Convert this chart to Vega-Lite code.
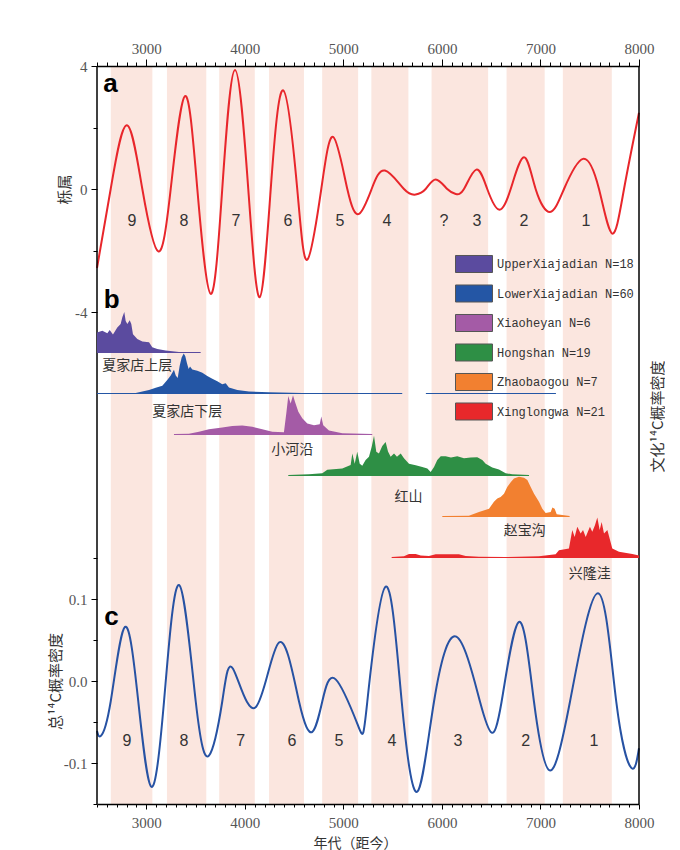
{
 "$schema": "https://vega.github.io/schema/vega-lite/v6.json",
 "background": "white",
 "padding": {"left": 48, "top": 41, "right": 0, "bottom": 0},
 "spacing": 0,
 "bounds": "flush",
 "config": {
  "view": {"stroke": null},
  "axis": {"labelFont": "Liberation Serif", "labelFontSize": 15, "labelColor": "#555", "titleFont": "Noto Sans CJK SC", "titleFontWeight": "normal", "titleFontSize": 15, "titleColor": "#333", "domainColor": "black", "domainWidth": 1.5, "tickColor": "black", "grid": false, "labelOverlap": false, "labelFlush": false}
 },
 "datasets": {
  "edges": [{"year": 2500}, {"year": 8000}],
  "bands": [{"year":2640,"end":3062},{"year":3210,"end":3609},{"year":3740,"end":4101},{"year":4246,"end":4600},{"year":4785,"end":5150},{"year":5284,"end":5660},{"year":5895,"end":6469},{"year":6656,"end":7043},{"year":7227,"end":7724}],
  "red": [{"year":2500,"v":-2.57},{"year":2639,"v":0},{"year":2801,"v":2.07},{"year":2960,"v":0},{"year":3122,"v":-2.03},{"year":3248,"v":0},{"year":3393,"v":3.02},{"year":3518,"v":0},{"year":3654,"v":-3.41},{"year":3771,"v":0},{"year":3900,"v":3.87},{"year":4035,"v":0},{"year":4151,"v":-3.52},{"year":4263,"v":0},{"year":4390,"v":3.21},{"year":4532,"v":0},{"year":4634,"v":-2.3},{"year":4776,"v":0},{"year":4898,"v":1.69},{"year":5040,"v":0},{"year":5159,"v":-0.81},{"year":5287,"v":0},{"year":5422,"v":0.6},{"year":5615,"v":0},{"year":5734,"v":-0.18},{"year":5835,"v":0},{"year":5937,"v":0.31},{"year":6054,"v":0},{"year":6140,"v":-0.16},{"year":6224,"v":0},{"year":6349,"v":0.63},{"year":6460,"v":0},{"year":6579,"v":-0.67},{"year":6698,"v":0},{"year":6833,"v":1.03},{"year":6951,"v":0},{"year":7097,"v":-0.75},{"year":7239,"v":0},{"year":7432,"v":0.98},{"year":7594,"v":0},{"year":7729,"v":-1.45},{"year":7848,"v":0},{"year":8000,"v":2.48}],
  "blue": [{"year":2500,"v":-0.061},{"year":2538,"v":-0.067},{"year":2639,"v":-0.025},{"year":2784,"v":0.066},{"year":2919,"v":-0.025},{"year":3051,"v":-0.129},{"year":3180,"v":-0.025},{"year":3332,"v":0.117},{"year":3502,"v":-0.025},{"year":3636,"v":-0.091},{"year":3771,"v":-0.025},{"year":3880,"v":0.015},{"year":4110,"v":-0.032},{"year":4347,"v":0.047},{"year":4550,"v":-0.025},{"year":4685,"v":-0.062},{"year":4786,"v":-0.025},{"year":4922,"v":0.002},{"year":5151,"v":-0.055},{"year":5243,"v":-0.025},{"year":5429,"v":0.115},{"year":5592,"v":-0.025},{"year":5750,"v":-0.135},{"year":5920,"v":-0.025},{"year":6146,"v":0.054},{"year":6386,"v":-0.025},{"year":6505,"v":-0.063},{"year":6606,"v":-0.025},{"year":6782,"v":0.072},{"year":6934,"v":-0.025},{"year":7093,"v":-0.109},{"year":7300,"v":-0.025},{"year":7584,"v":0.107},{"year":7769,"v":-0.025},{"year":7922,"v":-0.106},{"year":8000,"v":-0.082}],
  "numA": [{"year":2855,"v":-1.05,"t":"9"},{"year":3383,"v":-1.05,"t":"8"},{"year":3910,"v":-1.05,"t":"7"},{"year":4438,"v":-1.05,"t":"6"},{"year":4966,"v":-1.05,"t":"5"},{"year":5443,"v":-1.05,"t":"4"},{"year":6021,"v":-1.05,"t":"?"},{"year":6356,"v":-1.05,"t":"3"},{"year":6833,"v":-1.05,"t":"2"},{"year":7462,"v":-1.05,"t":"1"}],
  "numC": [{"year":2804,"v":-0.073,"t":"9"},{"year":3383,"v":-0.073,"t":"8"},{"year":3958,"v":-0.073,"t":"7"},{"year":4479,"v":-0.073,"t":"6"},{"year":4956,"v":-0.073,"t":"5"},{"year":5493,"v":-0.073,"t":"4"},{"year":6163,"v":-0.073,"t":"3"},{"year":6850,"v":-0.073,"t":"2"},{"year":7543,"v":-0.073,"t":"1"}],
  "b": [
   {"c":"U","year":2500,"d":0.5},{"c":"U","year":2554,"d":0.54},{"c":"U","year":2605,"d":0.48},{"c":"U","year":2629,"d":0.56},{"c":"U","year":2662,"d":0.45},{"c":"U","year":2706,"d":0.62},{"c":"U","year":2740,"d":0.71},{"c":"U","year":2757,"d":0.87},{"c":"U","year":2777,"d":1.0},{"c":"U","year":2791,"d":0.78},{"c":"U","year":2808,"d":0.71},{"c":"U","year":2832,"d":0.8},{"c":"U","year":2848,"d":0.71},{"c":"U","year":2865,"d":0.46},{"c":"U","year":2909,"d":0.34},{"c":"U","year":2960,"d":0.28},{"c":"U","year":3028,"d":0.26},{"c":"U","year":3061,"d":0.14},{"c":"U","year":3112,"d":0.1},{"c":"U","year":3197,"d":0.06},{"c":"U","year":3332,"d":0.025},{"c":"U","year":3552,"d":0.025},
   {"c":"L","year":2500,"d":0.025},{"c":"L","year":2893,"d":0.025},{"c":"L","year":2960,"d":0.06},{"c":"L","year":3028,"d":0.1},{"c":"L","year":3096,"d":0.15},{"c":"L","year":3163,"d":0.2},{"c":"L","year":3213,"d":0.34},{"c":"L","year":3248,"d":0.45},{"c":"L","year":3281,"d":0.59},{"c":"L","year":3299,"d":0.45},{"c":"L","year":3319,"d":0.39},{"c":"L","year":3339,"d":0.69},{"c":"L","year":3359,"d":0.89},{"c":"L","year":3380,"d":0.99},{"c":"L","year":3396,"d":0.92},{"c":"L","year":3413,"d":0.75},{"c":"L","year":3430,"d":0.61},{"c":"L","year":3444,"d":0.67},{"c":"L","year":3467,"d":0.6},{"c":"L","year":3518,"d":0.57},{"c":"L","year":3569,"d":0.52},{"c":"L","year":3619,"d":0.44},{"c":"L","year":3670,"d":0.37},{"c":"L","year":3721,"d":0.31},{"c":"L","year":3771,"d":0.24},{"c":"L","year":3806,"d":0.26},{"c":"L","year":3839,"d":0.16},{"c":"L","year":3924,"d":0.1},{"c":"L","year":4042,"d":0.06},{"c":"L","year":4245,"d":0.04},{"c":"L","year":4583,"d":0.025},{"c":"L","year":5595,"d":0.025},{"c":"L","year":5600,"d":0},{"c":"L","year":5835,"d":0},{"c":"L","year":5840,"d":0.025},{"c":"L","year":7157,"d":0.025},
   {"c":"X","year":3281,"d":0.025},{"c":"X","year":3433,"d":0.03},{"c":"X","year":3535,"d":0.08},{"c":"X","year":3636,"d":0.14},{"c":"X","year":3771,"d":0.18},{"c":"X","year":3873,"d":0.22},{"c":"X","year":3974,"d":0.23},{"c":"X","year":4076,"d":0.2},{"c":"X","year":4177,"d":0.14},{"c":"X","year":4279,"d":0.08},{"c":"X","year":4397,"d":0.07},{"c":"X","year":4421,"d":0.53},{"c":"X","year":4441,"d":0.95},{"c":"X","year":4465,"d":0.77},{"c":"X","year":4489,"d":0.97},{"c":"X","year":4509,"d":0.81},{"c":"X","year":4543,"d":0.57},{"c":"X","year":4583,"d":0.41},{"c":"X","year":4634,"d":0.28},{"c":"X","year":4702,"d":0.24},{"c":"X","year":4760,"d":0.26},{"c":"X","year":4776,"d":0.45},{"c":"X","year":4796,"d":0.24},{"c":"X","year":4854,"d":0.11},{"c":"X","year":4989,"d":0.04},{"c":"X","year":5293,"d":0.025},
   {"c":"H","year":4441,"d":0.025},{"c":"H","year":4651,"d":0.04},{"c":"H","year":4786,"d":0.07},{"c":"H","year":4837,"d":0.15},{"c":"H","year":4989,"d":0.18},{"c":"H","year":5074,"d":0.27},{"c":"H","year":5091,"d":0.55},{"c":"H","year":5115,"d":0.3},{"c":"H","year":5141,"d":0.59},{"c":"H","year":5166,"d":0.3},{"c":"H","year":5192,"d":0.25},{"c":"H","year":5226,"d":0.39},{"c":"H","year":5260,"d":0.47},{"c":"H","year":5287,"d":0.71},{"c":"H","year":5311,"d":0.98},{"c":"H","year":5334,"d":0.59},{"c":"H","year":5361,"d":0.55},{"c":"H","year":5395,"d":0.73},{"c":"H","year":5429,"d":0.83},{"c":"H","year":5453,"d":0.6},{"c":"H","year":5480,"d":0.47},{"c":"H","year":5514,"d":0.55},{"c":"H","year":5544,"d":0.47},{"c":"H","year":5582,"d":0.55},{"c":"H","year":5615,"d":0.43},{"c":"H","year":5666,"d":0.3},{"c":"H","year":5734,"d":0.26},{"c":"H","year":5801,"d":0.22},{"c":"H","year":5852,"d":0.18},{"c":"H","year":5886,"d":0.1},{"c":"H","year":5920,"d":0.22},{"c":"H","year":5953,"d":0.39},{"c":"H","year":5988,"d":0.48},{"c":"H","year":6038,"d":0.48},{"c":"H","year":6092,"d":0.45},{"c":"H","year":6156,"d":0.48},{"c":"H","year":6224,"d":0.43},{"c":"H","year":6292,"d":0.45},{"c":"H","year":6359,"d":0.46},{"c":"H","year":6410,"d":0.39},{"c":"H","year":6444,"d":0.3},{"c":"H","year":6511,"d":0.21},{"c":"H","year":6579,"d":0.16},{"c":"H","year":6647,"d":0.07},{"c":"H","year":6714,"d":0.04},{"c":"H","year":6884,"d":0.025},
   {"c":"Z","year":6004,"d":0.025},{"c":"Z","year":6274,"d":0.03},{"c":"Z","year":6376,"d":0.12},{"c":"Z","year":6478,"d":0.2},{"c":"Z","year":6528,"d":0.37},{"c":"Z","year":6562,"d":0.45},{"c":"Z","year":6596,"d":0.49},{"c":"Z","year":6630,"d":0.57},{"c":"Z","year":6663,"d":0.73},{"c":"Z","year":6698,"d":0.85},{"c":"Z","year":6731,"d":0.94},{"c":"Z","year":6782,"d":0.98},{"c":"Z","year":6833,"d":0.96},{"c":"Z","year":6867,"d":0.9},{"c":"Z","year":6901,"d":0.73},{"c":"Z","year":6935,"d":0.57},{"c":"Z","year":6985,"d":0.37},{"c":"Z","year":7019,"d":0.2},{"c":"Z","year":7053,"d":0.1},{"c":"Z","year":7104,"d":0.12},{"c":"Z","year":7121,"d":0.23},{"c":"Z","year":7144,"d":0.2},{"c":"Z","year":7165,"d":0.07},{"c":"Z","year":7296,"d":0.025},
   {"c":"W","year":5490,"d":0.025},{"c":"W","year":5615,"d":0.04},{"c":"W","year":5666,"d":0.1},{"c":"W","year":5734,"d":0.1},{"c":"W","year":5785,"d":0.06},{"c":"W","year":5869,"d":0.05},{"c":"W","year":5937,"d":0.09},{"c":"W","year":6038,"d":0.09},{"c":"W","year":6173,"d":0.09},{"c":"W","year":6241,"d":0.05},{"c":"W","year":6376,"d":0.03},{"c":"W","year":6647,"d":0.025},{"c":"W","year":6985,"d":0.04},{"c":"W","year":7154,"d":0.09},{"c":"W","year":7188,"d":0.19},{"c":"W","year":7289,"d":0.23},{"c":"W","year":7323,"d":0.68},{"c":"W","year":7347,"d":0.51},{"c":"W","year":7374,"d":0.76},{"c":"W","year":7408,"d":0.6},{"c":"W","year":7432,"d":0.68},{"c":"W","year":7459,"d":0.51},{"c":"W","year":7502,"d":0.76},{"c":"W","year":7526,"d":0.64},{"c":"W","year":7553,"d":0.8},{"c":"W","year":7577,"d":0.99},{"c":"W","year":7601,"d":0.68},{"c":"W","year":7621,"d":0.88},{"c":"W","year":7645,"d":0.6},{"c":"W","year":7679,"d":0.68},{"c":"W","year":7729,"d":0.23},{"c":"W","year":7797,"d":0.15},{"c":"W","year":7932,"d":0.1},{"c":"W","year":8000,"d":0.06}
  ],
  "lab": [{"c":"U","year":2909,"d":-0.31,"t":"夏家店上层"},{"c":"L","year":3416,"d":-0.45,"t":"夏家店下层"},{"c":"X","year":4482,"d":-0.37,"t":"小河沿"},{"c":"H","year":5662,"d":-0.5,"t":"红山"},{"c":"Z","year":6841,"d":-0.34,"t":"赵宝沟"}]
 },
 "vconcat": [
  {
   "width": 542, "height": 246,
   "encoding": {
    "x": {"field": "year", "type": "quantitative", "scale": {"domain": [2500, 8000], "nice": false, "zero": false},
      "axis": {"orient": "top", "title": null, "domain": true, "zindex": 1, "values": [2500,2600,2700,2800,2900,3000,3100,3200,3300,3400,3500,3600,3700,3800,3900,4000,4100,4200,4300,4400,4500,4600,4700,4800,4900,5000,5100,5200,5300,5400,5500,5600,5700,5800,5900,6000,6100,6200,6300,6400,6500,6600,6700,6800,6900,7000,7100,7200,7300,7400,7500,7600,7700,7800,7900,8000],
        "labelExpr": "datum.value % 1000 === 0 ? toString(datum.value) : ''", "labelPadding": 3,
        "tickSize": {"condition": {"test": "datum.value % 1000 === 0", "value": 7}, "value": 4}}}
   },
   "layer": [
    {"data": {"name": "bands"}, "mark": {"type": "rect", "color": "#fbe6df"}, "encoding": {"x2": {"field": "end"}}},
    {"data": {"name": "red"}, "mark": {"type": "line", "color": "#e8262b", "strokeWidth": 2, "interpolate": "natural"},
     "encoding": {
      "y": {"field": "v", "type": "quantitative", "scale": {"domain": [-4, 4], "nice": false},
        "axis": {"title": "栎属", "titlePadding": 2, "labelPadding": 4, "domain": false, "values": [-4,-3,-2,-1,0,1,2,3,4],
          "labelExpr": "datum.value % 4 === 0 ? toString(datum.value) : ''",
          "tickSize": {"condition": {"test": "datum.value % 4 === 0", "value": 6}, "value": 4}}}}},
    {"mark": {"type": "rule", "color": "black", "strokeWidth": 1.5}, "encoding": {"x": {"datum": 2500}, "x2": {"datum": 8000}, "y": {"datum": 0}}},
    {"mark": {"type": "rule", "color": "black", "strokeWidth": 1.5}, "encoding": {"x": {"datum": 2500}, "x2": {"datum": 8000}, "y": {"datum": 4}}},
    {"data": {"name": "edges"}, "mark": {"type": "rule", "color": "black", "strokeWidth": 1.5}},
    {"data": {"name": "numA"}, "mark": {"type": "text", "font": "Liberation Sans", "fontSize": 16, "color": "#333"},
     "encoding": {"y": {"field": "v", "type": "quantitative"}, "text": {"field": "t"}}},
    {"data": {"values": [{"year": 2636, "v": 3.41, "t": "a"}, {"year": 2650, "v": -3.6, "t": "b"}]},
     "mark": {"type": "text", "font": "Liberation Sans", "fontSize": 26, "fontWeight": "bold", "color": "black"},
     "encoding": {"y": {"field": "v", "type": "quantitative"}, "text": {"field": "t"}}}
   ]
  },
  {
   "width": 542, "height": 246,
   "resolve": {"scale": {"y": "independent"}},
   "layer": [
    {"data": {"name": "bands"}, "mark": {"type": "rect", "color": "#fbe6df"},
     "encoding": {
      "x": {"field": "year", "type": "quantitative", "scale": {"domain": [2500, 8000], "nice": false, "zero": false}, "axis": null},
      "x2": {"field": "end"}}},
    {"data": {"name": "edges"}, "mark": {"type": "rule", "color": "black", "strokeWidth": 1.5}, "encoding": {"x": {"field": "year", "type": "quantitative", "axis": null}}},
    {"layer": [
      {"data": {"name": "b"}, "transform": [{"filter": "datum.c === 'U'"}], "mark": {"type": "area", "opacity": 1},
       "encoding": {
        "x": {"field": "year", "type": "quantitative", "axis": null},
        "y": {"field": "d", "type": "quantitative", "stack": null, "scale": {"domain": [-5, 1], "nice": false}, "axis": null},
        "y2": {"datum": 0},
        "color": {"field": "c", "type": "nominal", "scale": {"domain": ["U","L","X","H","Z","W"], "range": ["#5b4b9f","#2456a5","#a45ba6","#2e8f45","#f28030","#e8282b"]},
          "legend": {"orient": "none", "legendX": 367, "legendY": 188, "title": null, "padding": 0,
            "symbolType": "M-2,-0.92H2V0.92H-2Z", "symbolSize": 342, "symbolStrokeColor": "#555", "symbolStrokeWidth": 1, "symbolOpacity": 1,
            "labelFont": "Liberation Mono", "labelFontSize": 12, "labelColor": "#333", "labelOffset": 13, "rowPadding": 7.5,
            "labelExpr": "datum.label == 'U' ? 'UpperXiajadian N=18' : datum.label == 'L' ? 'LowerXiajadian N=60' : datum.label == 'X' ? 'Xiaoheyan N=6' : datum.label == 'H' ? 'Hongshan N=19' : datum.label == 'Z' ? 'Zhaobaogou N=7' : 'Xinglongwa N=21'"}}}},
      {"data": {"name": "lab"}, "transform": [{"filter": "datum.c === 'U'"}], "mark": {"type": "text", "font": "Noto Sans CJK SC", "fontSize": 14, "color": "#333"},
       "encoding": {"x": {"field": "year", "type": "quantitative", "axis": null}, "y": {"field": "d", "type": "quantitative", "scale": {"domain": [-5, 1], "nice": false}, "axis": null}, "text": {"field": "t"}}}
    ]},
    {"layer": [
      {"data": {"name": "b"}, "transform": [{"filter": "datum.c === 'L'"}], "mark": {"type": "area", "opacity": 1},
       "encoding": {
        "x": {"field": "year", "type": "quantitative", "axis": null},
        "y": {"field": "d", "type": "quantitative", "stack": null, "scale": {"domain": [-4, 2], "nice": false}, "axis": null},
        "y2": {"datum": 0},
        "color": {"field": "c", "type": "nominal"}}},
      {"data": {"name": "lab"}, "transform": [{"filter": "datum.c === 'L'"}], "mark": {"type": "text", "font": "Noto Sans CJK SC", "fontSize": 14, "color": "#333"},
       "encoding": {"x": {"field": "year", "type": "quantitative", "axis": null}, "y": {"field": "d", "type": "quantitative", "scale": {"domain": [-4, 2], "nice": false}, "axis": null}, "text": {"field": "t"}}}
    ]},
    {"layer": [
      {"data": {"name": "b"}, "transform": [{"filter": "datum.c === 'X'"}], "mark": {"type": "area", "opacity": 1},
       "encoding": {
        "x": {"field": "year", "type": "quantitative", "axis": null},
        "y": {"field": "d", "type": "quantitative", "stack": null, "scale": {"domain": [-3, 3], "nice": false}, "axis": null},
        "y2": {"datum": 0},
        "color": {"field": "c", "type": "nominal"}}},
      {"data": {"name": "lab"}, "transform": [{"filter": "datum.c === 'X'"}], "mark": {"type": "text", "font": "Noto Sans CJK SC", "fontSize": 14, "color": "#333"},
       "encoding": {"x": {"field": "year", "type": "quantitative", "axis": null}, "y": {"field": "d", "type": "quantitative", "scale": {"domain": [-3, 3], "nice": false}, "axis": null}, "text": {"field": "t"}}}
    ]},
    {"layer": [
      {"data": {"name": "b"}, "transform": [{"filter": "datum.c === 'H'"}], "mark": {"type": "area", "opacity": 1},
       "encoding": {
        "x": {"field": "year", "type": "quantitative", "axis": null},
        "y": {"field": "d", "type": "quantitative", "stack": null, "scale": {"domain": [-2, 4], "nice": false}, "axis": null},
        "y2": {"datum": 0},
        "color": {"field": "c", "type": "nominal"}}},
      {"data": {"name": "lab"}, "transform": [{"filter": "datum.c === 'H'"}], "mark": {"type": "text", "font": "Noto Sans CJK SC", "fontSize": 14, "color": "#333"},
       "encoding": {"x": {"field": "year", "type": "quantitative", "axis": null}, "y": {"field": "d", "type": "quantitative", "scale": {"domain": [-2, 4], "nice": false}, "axis": null}, "text": {"field": "t"}}}
    ]},
    {"layer": [
      {"data": {"name": "b"}, "transform": [{"filter": "datum.c === 'Z'"}], "mark": {"type": "area", "opacity": 1},
       "encoding": {
        "x": {"field": "year", "type": "quantitative", "axis": null},
        "y": {"field": "d", "type": "quantitative", "stack": null, "scale": {"domain": [-1, 5], "nice": false}, "axis": null},
        "y2": {"datum": 0},
        "color": {"field": "c", "type": "nominal"}}},
      {"data": {"name": "lab"}, "transform": [{"filter": "datum.c === 'Z'"}], "mark": {"type": "text", "font": "Noto Sans CJK SC", "fontSize": 14, "color": "#333"},
       "encoding": {"x": {"field": "year", "type": "quantitative", "axis": null}, "y": {"field": "d", "type": "quantitative", "scale": {"domain": [-1, 5], "nice": false}, "axis": null}, "text": {"field": "t"}}}
    ]},
    {"data": {"name": "b"}, "transform": [{"filter": "datum.c === 'W'"}], "mark": {"type": "area", "opacity": 1},
     "encoding": {
      "x": {"field": "year", "type": "quantitative", "axis": null},
      "y": {"field": "d", "type": "quantitative", "stack": null, "scale": {"domain": [0, 6], "nice": false},
        "axis": {"orient": "right", "title": "文化¹⁴C概率密度", "titleAngle": 270, "titleBaseline": "top", "titleY": 104, "domain": false, "ticks": false, "labels": false, "titlePadding": 11}},
      "y2": {"datum": 0},
      "color": {"field": "c", "type": "nominal"}}}
   ]
  },
  {
   "width": 542, "height": 246,
   "encoding": {
    "x": {"field": "year", "type": "quantitative", "scale": {"domain": [2500, 8000], "nice": false, "zero": false},
      "axis": {"orient": "bottom", "title": "年代（距今）", "titleFontSize": 14, "titlePadding": 6, "titleX": 258, "domain": true, "zindex": 1, "values": [2500,2600,2700,2800,2900,3000,3100,3200,3300,3400,3500,3600,3700,3800,3900,4000,4100,4200,4300,4400,4500,4600,4700,4800,4900,5000,5100,5200,5300,5400,5500,5600,5700,5800,5900,6000,6100,6200,6300,6400,6500,6600,6700,6800,6900,7000,7100,7200,7300,7400,7500,7600,7700,7800,7900,8000],
        "labelExpr": "datum.value % 1000 === 0 ? toString(datum.value) : ''", "labelPadding": 6,
        "tickSize": {"condition": {"test": "datum.value % 1000 === 0", "value": 5}, "value": 3}}}
   },
   "layer": [
    {"data": {"name": "bands"}, "mark": {"type": "rect", "color": "#fbe6df"}, "encoding": {"x2": {"field": "end"}}},
    {"data": {"name": "blue"}, "mark": {"type": "line", "color": "#2752a3", "strokeWidth": 2, "interpolate": "natural"},
     "encoding": {
      "y": {"field": "v", "type": "quantitative", "scale": {"domain": [-0.15, 0.15], "nice": false, "zero": false},
        "axis": {"title": "总¹⁴C概率密度", "titlePadding": 0, "labelPadding": 4, "domain": false, "values": [-0.15,-0.1,-0.05,0,0.05,0.1,0.15],
          "labelExpr": "datum.value === 0.1 ? '0.1' : datum.value === 0 ? '0.0' : datum.value === -0.1 ? '-0.1' : ''",
          "tickSize": {"condition": {"test": "datum.value === 0.1 || datum.value === 0 || datum.value === -0.1", "value": 6}, "value": 4}}}}},
    {"mark": {"type": "rule", "color": "black", "strokeWidth": 1.5}, "encoding": {"x": {"datum": 2500}, "x2": {"datum": 8000}, "y": {"datum": -0.025}}},
    {"data": {"name": "edges"}, "mark": {"type": "rule", "color": "black", "strokeWidth": 1.5}},
    {"data": {"name": "numC"}, "mark": {"type": "text", "font": "Liberation Sans", "fontSize": 16, "color": "#333"},
     "encoding": {"y": {"field": "v", "type": "quantitative"}, "text": {"field": "t"}}},
    {"data": {"values": [{"year": 7500, "v": 0.13, "t": "兴隆洼"}]},
     "mark": {"type": "text", "font": "Noto Sans CJK SC", "fontSize": 14, "color": "#333"},
     "encoding": {"y": {"field": "v", "type": "quantitative"}, "text": {"field": "t"}}},
    {"data": {"values": [{"year": 2647, "v": 0.078, "t": "c"}]},
     "mark": {"type": "text", "font": "Liberation Sans", "fontSize": 26, "fontWeight": "bold", "color": "black"},
     "encoding": {"y": {"field": "v", "type": "quantitative"}, "text": {"field": "t"}}}
   ]
  }
 ]
}
